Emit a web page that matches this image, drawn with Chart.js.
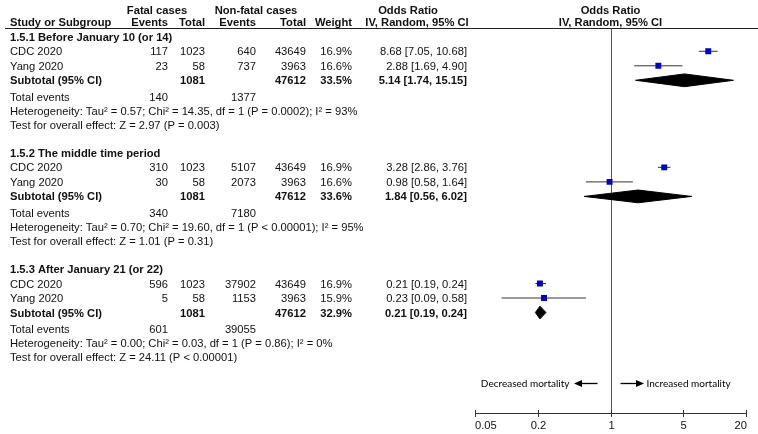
<!DOCTYPE html>
<html>
<head>
<meta charset="utf-8">
<script src="https://cdn.jsdelivr.net/npm/chart.js@4.4.1/dist/chart.umd.min.js"></script>
<style>
  html, body { margin: 0; padding: 0; background: #fff; }
  #wrap { width: 758px; height: 434px; }
</style>
</head>
<body>
<div id="wrap"><canvas id="c" width="758" height="434"></canvas></div>
<script>
// ---------------- DATA ----------------
const subgroups = ['1.5.1 Before January 10 (or 14)', '1.5.2 The middle time period', '1.5.3 After January 21 (or 22)'];
const studies = ['CDC 2020', 'Yang 2020'];
const fatalEvents = [[117, 23], [310, 30], [596, 5]];
const fatalTotal = [[1023, 58], [1023, 58], [1023, 58]];
const nonFatalEvents = [[640, 737], [5107, 2073], [37902, 1153]];
const nonFatalTotal = [[43649, 3963], [43649, 3963], [43649, 3963]];
const studyWeight = [['16.9%', '16.6%'], ['16.9%', '16.6%'], ['16.9%', '15.9%']];
const orEst = [[8.68, 2.88], [3.28, 0.98], [0.21, 0.23]];
const orLow = [[7.05, 1.69], [2.86, 0.58], [0.19, 0.09]];
const orHigh = [[10.68, 4.90], [3.76, 1.64], [0.24, 0.58]];
const subFatalTotal = [1081, 1081, 1081];
const subNonFatalTotal = [47612, 47612, 47612];
const subWeight = ['33.5%', '33.6%', '32.9%'];
const subEst = [5.14, 1.84, 0.21];
const subLow = [1.74, 0.56, 0.19];
const subHigh = [15.15, 6.02, 0.24];
const totalFatalEvents = [140, 340, 601];
const totalNonFatalEvents = [1377, 7180, 39055];
const heterogeneity = [
  'Heterogeneity: Tau² = 0.57; Chi² = 14.35, df = 1 (P = 0.0002); I² = 93%',
  'Heterogeneity: Tau² = 0.70; Chi² = 19.60, df = 1 (P < 0.00001); I² = 95%',
  'Heterogeneity: Tau² = 0.00; Chi² = 0.03, df = 1 (P = 0.86); I² = 0%'
];
const overallEffect = [
  'Test for overall effect: Z = 2.97 (P = 0.003)',
  'Test for overall effect: Z = 1.01 (P = 0.31)',
  'Test for overall effect: Z = 24.11 (P < 0.00001)'
];
const xTicks = [0.05, 0.2, 1, 5, 20];
const xTickLabels = ['0.05', '0.2', '1', '5', '20'];
const leftLabel = 'Decreased mortality';
const rightLabel = 'Increased mortality';

// ---------------- LAYOUT (row slots) ----------------
const BLOCK_ROWS = 8;          // rows per subgroup block
const ROW_PX = 14.8;
const FIRST_ROW_PX = 48;
function rowOf(b, k) { return b * BLOCK_ROWS + k; } // k: -1 header, 0/1 studies, 2 subtotal, 3 total, 4 het, 5 test

const fmt = (e, l, h) => e.toFixed(2) + ' [' + l.toFixed(2) + ', ' + h.toFixed(2) + ']';

// ---------------- DATASETS ----------------
const squares = [];
const datasets = [];
subgroups.forEach((g, b) => {
  studies.forEach((s, i) => {
    squares.push({ x: orEst[b][i], y: rowOf(b, i) });
    datasets.push({
      type: 'scatter', showLine: true, order: 2,
      data: [{ x: orLow[b][i], y: rowOf(b, i) }, { x: orHigh[b][i], y: rowOf(b, i) }],
      borderColor: '#333', borderWidth: 1, pointRadius: 0, fill: false
    });
  });
  const r = rowOf(b, 2);
  datasets.push({
    type: 'scatter', showLine: true, order: 1,
    data: [{ x: subLow[b], y: r }, { x: subEst[b], y: r - 0.44 }, { x: subHigh[b], y: r }, { x: subEst[b], y: r + 0.44 }, { x: subLow[b], y: r }],
    borderColor: '#000', backgroundColor: '#000', borderWidth: 1, pointRadius: 0, fill: 'shape', tension: 0
  });
});
datasets.unshift({
  type: 'scatter', order: 0, data: squares,
  pointStyle: 'rect', pointRadius: 4.2, backgroundColor: '#0000c8', borderColor: '#0000c8', borderWidth: 0
});

// ---------------- DRAWING PLUGIN ----------------
const FONT = '"Liberation Sans", Arial, sans-serif';
const FS = '11.2px ';
const forestPlugin = {
  id: 'forest',
  beforeDatasetsDraw(chart) {
    const ctx = chart.ctx, x = chart.scales.x, y = chart.scales.y;
    ctx.save();
    // header rule
    ctx.strokeStyle = '#222'; ctx.lineWidth = 1;
    const ruleY = Math.round(y.getPixelForValue(-1.6)) + 0.5;
    ctx.beginPath(); ctx.moveTo(5, ruleY); ctx.lineTo(758, ruleY); ctx.stroke();
    // line of no effect
    const x1 = Math.round(x.getPixelForValue(1)) + 0.5;
    const axisY = Math.round(y.getPixelForValue(24.95)) + 0.5;
    ctx.strokeStyle = '#555';
    ctx.beginPath(); ctx.moveTo(x1, ruleY); ctx.lineTo(x1, axisY); ctx.stroke();
    // axis
    ctx.strokeStyle = '#333';
    const xa = x.getPixelForValue(xTicks[0]), xb = x.getPixelForValue(xTicks[xTicks.length - 1]);
    ctx.beginPath(); ctx.moveTo(Math.round(xa) + 0.5, axisY); ctx.lineTo(Math.round(xb) + 0.5, axisY); ctx.stroke();
    ctx.fillStyle = '#111'; ctx.font = FS + FONT; ctx.textBaseline = 'middle';
    xTicks.forEach((t, i) => {
      const px = Math.round(x.getPixelForValue(t)) + 0.5;
      ctx.beginPath(); ctx.moveTo(px, axisY - 3.5); ctx.lineTo(px, axisY + 3.5); ctx.stroke();
      ctx.textAlign = i === 0 ? 'left' : (i === xTicks.length - 1 ? 'right' : 'center');
      const lx = i === 0 ? px - 0.5 : (i === xTicks.length - 1 ? px + 0.5 : px);
      ctx.fillText(xTickLabels[i], lx, axisY + 12);
    });
    ctx.restore();
  },
  afterDraw(chart) {
    const ctx = chart.ctx, x = chart.scales.x, y = chart.scales.y;
    ctx.save();
    ctx.fillStyle = '#111';
    ctx.textBaseline = 'middle';
    const R = (r) => y.getPixelForValue(r) + 1;
    const txt = (s, px, r, align, bold) => {
      ctx.font = (bold ? 'bold ' : '') + FS + FONT;
      ctx.textAlign = align;
      ctx.fillText(String(s), px, R(r));
    };
    const C = { label: 10, fe: 168, ft: 205, ne: 256, nt: 306, w: 352, or: 467 };
    // headers
    txt('Fatal cases', 157, -2.88, 'center', true);
    txt('Non-fatal cases', 256, -2.88, 'center', true);
    txt('Odds Ratio', 408, -2.88, 'center', true);
    txt('Odds Ratio', x.getPixelForValue(1), -2.88, 'center', true);
    txt('Study or Subgroup', C.label, -2.0, 'left', true);
    txt('Events', C.fe, -2.0, 'right', true);
    txt('Total', C.ft, -2.0, 'right', true);
    txt('Events', C.ne, -2.0, 'right', true);
    txt('Total', C.nt, -2.0, 'right', true);
    txt('Weight', C.w, -2.0, 'right', true);
    txt('IV, Random, 95% CI', 417, -2.0, 'center', true);
    txt('IV, Random, 95% CI', x.getPixelForValue(1), -2.0, 'center', true);
    subgroups.forEach((g, b) => {
      txt(g, C.label, rowOf(b, -1), 'left', true);
      studies.forEach((s, i) => {
        const r = rowOf(b, i);
        txt(s, C.label, r, 'left');
        txt(fatalEvents[b][i], C.fe, r, 'right');
        txt(fatalTotal[b][i], C.ft, r, 'right');
        txt(nonFatalEvents[b][i], C.ne, r, 'right');
        txt(nonFatalTotal[b][i], C.nt, r, 'right');
        txt(studyWeight[b][i], C.w, r, 'right');
        txt(fmt(orEst[b][i], orLow[b][i], orHigh[b][i]), C.or, r, 'right');
      });
      const rs = rowOf(b, 2);
      txt('Subtotal (95% CI)', C.label, rs, 'left', true);
      txt(subFatalTotal[b], C.ft, rs, 'right', true);
      txt(subNonFatalTotal[b], C.nt, rs, 'right', true);
      txt(subWeight[b], C.w, rs, 'right', true);
      txt(fmt(subEst[b], subLow[b], subHigh[b]), C.or, rs, 'right', true);
      const rt = rowOf(b, 3) + 0.15;
      txt('Total events', C.label, rt, 'left');
      txt(totalFatalEvents[b], C.fe, rt, 'right');
      txt(totalNonFatalEvents[b], C.ne, rt, 'right');
      txt(heterogeneity[b], C.label, rowOf(b, 4) + 0.1, 'left');
      txt(overallEffect[b], C.label, rowOf(b, 5) + 0.05, 'left');
    });
    // direction arrows
    const ay = Math.round(y.getPixelForValue(22.85)) + 0.5;
    const x1 = x.getPixelForValue(1);
    ctx.strokeStyle = '#000'; ctx.fillStyle = '#000'; ctx.lineWidth = 1.3;
    const arrow = (from, to) => {
      const dir = Math.sign(to - from);
      ctx.beginPath(); ctx.moveTo(from, ay); ctx.lineTo(to - dir * 6, ay); ctx.stroke();
      ctx.beginPath(); ctx.moveTo(to, ay); ctx.lineTo(to - dir * 8, ay - 3.5); ctx.lineTo(to - dir * 8, ay + 3.5); ctx.closePath(); ctx.fill();
    };
    arrow(x1 - 13, x1 - 36.5);
    arrow(x1 + 10, x1 + 33.5);
    ctx.font = '10px Lato, "Open Sans", sans-serif';
    ctx.textBaseline = 'middle';
    ctx.textAlign = 'right'; ctx.fillText(leftLabel, x1 - 41, ay);
    ctx.textAlign = 'left'; ctx.fillText(rightLabel, x1 + 36, ay);
    ctx.restore();
  }
};

new Chart(document.getElementById('c'), {
  type: 'scatter',
  data: { datasets },
  options: {
    responsive: false,
    devicePixelRatio: 1,
    animation: false,
    layout: { padding: { left: 475, right: 12, top: 0, bottom: 0 } },
    plugins: { legend: { display: false }, tooltip: { enabled: false } },
    elements: { line: { tension: 0 } },
    scales: {
      x: { type: 'logarithmic', min: 0.05, max: 20, display: false },
      y: { type: 'linear', reverse: true, min: -FIRST_ROW_PX / ROW_PX, max: (434 - FIRST_ROW_PX) / ROW_PX, display: false }
    }
  },
  plugins: [forestPlugin]
});
</script>
</body>
</html>
